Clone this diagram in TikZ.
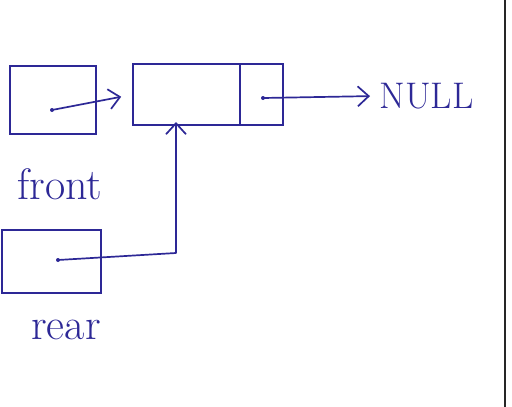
\documentclass[tikz,border=0pt]{standalone}
\usepackage{tikz}
\usetikzlibrary{arrows.meta, positioning}

\definecolor{pen}{RGB}{45,40,150}

\begin{document}
\begin{tikzpicture}[x=1pt, y=-1pt]
   \tikzstyle{cell}=[rectangle,draw=pen,line width=2pt,inner sep=0pt,outer sep=0pt]
   \tikzstyle{ptr}=[pen,line width=1.7pt,-{Straight Barb[length=11pt,width=20pt]}]
   \tikzstyle{word}=[pen,font=\fontsize{44}{50}\selectfont]
   \useasboundingbox (0,0) rectangle (512,407);

   % boxes
   \node[cell, minimum width=86, minimum height=68] (front) at (53,100) {};
   \node[cell, minimum width=107, minimum height=61] (dat) at (186.5,94.5) {};
   \node[cell, minimum width=43, minimum height=61, right=0pt of dat] (nxt) {};
   \node[cell, minimum width=99, minimum height=63] (rear) at (51,261.5) {};

   % labels
   \node[word] (frontlbl) at (60,184) {front};
   \node[word] (rearlbl) at (66,330) {rear};
   \node[word, anchor=west, font=\fontsize{37}{40}\selectfont] (null) at (376,96) {NULL};

   % pointers
   \coordinate (fdot) at (52,110);
   \coordinate (ndot) at (263,98);
   \coordinate (rdot) at (58,260);
   \coordinate (turn) at (176,253);
   \fill[pen] (fdot) circle (2);
   \fill[pen] (ndot) circle (2);
   \fill[pen] (rdot) circle (2);
   \draw[ptr, shorten >=12pt] (fdot) -- (dat.west);
   \draw[ptr, shorten >=6pt] (ndot) -- (null.west);
   \draw[ptr, line join=round] (rdot) -- (turn) -- ([yshift=3pt]turn |- dat.south);

   % page edge
   \coordinate (edgetop) at (505,0);
   \coordinate (edgebot) at (505,407);
   \draw[black!85, line width=1.8pt] (edgetop) -- (edgebot);
\end{tikzpicture}
\end{document}
